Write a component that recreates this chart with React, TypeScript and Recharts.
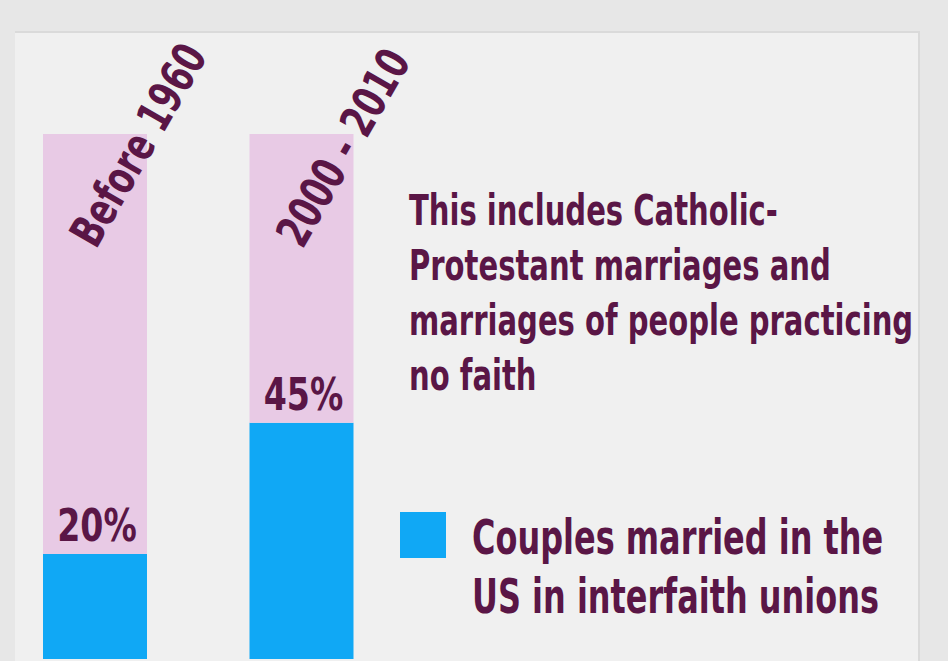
import React from 'react';
import { BarChart, Bar, XAxis, YAxis, LabelList, Legend } from 'recharts';

const periods = ['Before 1960', '2000 - 2010'];
const interfaithShare = [20, 45];
const totalShare = 100;
const valueLabels = ['20%', '45%'];
const noteLines = [
  'This includes Catholic-',
  'Protestant marriages and',
  'marriages of people practicing',
  'no faith',
];
const legendLines = ['Couples married in the', 'US in interfaith unions'];

const data = periods.map((p, i) => ({
  period: p,
  share: interfaithShare[i],
  rest: totalShare - interfaithShare[i],
  label: valueLabels[i],
}));

const MAROON = '#5a1646';
const BLUE = '#10a8f5';
const PINK = '#e8cae5';
const FONT = "'DejaVu Sans Condensed', 'DejaVu Sans', sans-serif";

type CTProps = {
  x: number;
  y: number;
  sx: number;
  size: number;
  rot?: number;
  anchor?: 'start' | 'middle' | 'end';
  children: React.ReactNode;
};

const CText = ({ x, y, sx, size, rot = 0, anchor = 'start', children }: CTProps) => (
  <text
    transform={`translate(${x} ${y}) rotate(${rot}) scale(${sx} 1)`}
    x={0}
    y={0}
    textAnchor={anchor}
    fill={MAROON}
    fontFamily={FONT}
    fontWeight="bold"
    fontSize={size}
  >
    {children}
  </text>
);

const PeriodLabel = (props: any) => {
  const { x, y, width, value } = props;
  return (
    <CText x={x + width / 2 + 1} y={y + 116} sx={0.79} size={46} rot={-60}>
      {value}
    </CText>
  );
};

const PercentLabel = (props: any) => {
  const { x, y, width, value } = props;
  return (
    <CText x={x + width / 2 + 2} y={y - 13} sx={0.84} size={44} anchor="middle">
      {value}
    </CText>
  );
};

const LegendContent = () => (
  <svg width={530} height={130} style={{ display: 'block', overflow: 'visible' }}>
    <rect x={0} y={0} width={46} height={46} fill={BLUE} />
    {legendLines.map((l, i) => (
      <CText key={l} x={72} y={42 + i * 59} sx={0.74} size={48}>
        {l}
      </CText>
    ))}
  </svg>
);

export default function App() {
  return (
    <div style={{ position: 'absolute', left: 0, top: 0, width: 948, height: 661, overflow: 'hidden', background: '#e7e7e7' }}>
      <div
        style={{
          position: 'absolute',
          left: 15,
          top: 31,
          width: 903,
          height: 640,
          background: '#f0f0f0',
          borderTop: '2px solid #dadada',
          borderRight: '2px solid #dadada',
        }}
      />
      <div style={{ position: 'absolute', left: 0, top: 0 }}>
        <BarChart
          width={948}
          height={661}
          data={data}
          margin={{ top: 8, right: 28, left: 12, bottom: 2 }}
        >
          <XAxis
            dataKey="period"
            type="category"
            height={0}
            tick={false}
            tickLine={false}
            axisLine={{ stroke: MAROON, strokeWidth: 4 }}
            padding={{ left: -20, right: 515 }}
          />
          <YAxis
            width={0}
            domain={[0, 124]}
            tick={false}
            tickLine={false}
            axisLine={{ stroke: MAROON, strokeWidth: 5 }}
          />
          <Legend
            layout="horizontal"
            verticalAlign="middle"
            align="center"
            content={<LegendContent />}
            wrapperStyle={{ position: 'absolute', left: 400, top: 512, width: 530, height: 130 }}
          />
          <Bar dataKey="share" stackId="a" fill={BLUE} barSize={104} isAnimationActive={false}>
            <LabelList dataKey="label" content={<PercentLabel />} />
          </Bar>
          <Bar dataKey="rest" stackId="a" fill={PINK} barSize={104} isAnimationActive={false}>
            <LabelList dataKey="period" content={<PeriodLabel />} />
          </Bar>
        </BarChart>
      </div>
      <svg style={{ position: 'absolute', left: 0, top: 0 }} width={948} height={661}>
        {noteLines.map((l, i) => (
          <CText key={l} x={409} y={225 + i * 55} sx={0.76} size={42.5}>
            {l}
          </CText>
        ))}
      </svg>
    </div>
  );
}
